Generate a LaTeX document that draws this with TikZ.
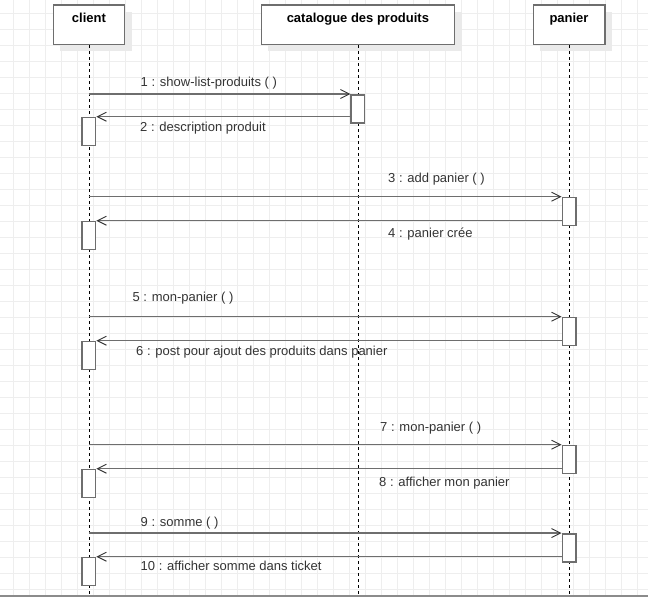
\documentclass[tikz,border=0pt]{standalone}
\usepackage{fontspec}
\setmainfont{Liberation Sans}
\usetikzlibrary{arrows.meta,positioning,shadows}

\definecolor{linegray}{HTML}{6E6E6E}
\definecolor{textgray}{HTML}{333333}
\definecolor{gridgray}{HTML}{EEEEEE}
\definecolor{shadowgray}{HTML}{EAEAEA}

\tikzset{
  objbox/.style={draw=linegray, line width=1.5pt, fill=white, inner sep=0pt,
    text height=17.7pt, text depth=21.7pt, anchor=north,
    font=\fontsize{13}{15}\selectfont\bfseries,
    drop shadow={shadow xshift=7pt, shadow yshift=-7pt, fill=shadowgray, opacity=1}},
  actbox/.style={draw=linegray, line width=1.5pt, fill=white, inner sep=0pt,
    minimum width=13.5pt, minimum height=28pt, anchor=north},
  lifeline/.style={line width=0.8pt, dash pattern=on 3pt off 3pt},
  msg/.style={draw=linegray, line width=1.5pt,
    -{Straight Barb[length=9pt, width=9pt, line width=0.9pt, color=black!80]}},
  msgtext/.style={anchor=base west, inner sep=0pt, text=textgray,
    font=\fontsize{13}{15}\selectfont}
}

\begin{document}
\begin{tikzpicture}[x=1pt, y=-1pt]
\useasboundingbox (0,0) rectangle (648,597);
\draw[gridgray, step=16pt, shift={(13,13)}] (-13,-13) grid (635,584);
\draw[linegray!80, line width=1.5pt] (0,596) -- (648,596);
\coordinate (bottom) at (0,597);

% objects
\node[objbox, minimum width=71.3pt]  (client)    at (88.9,4.3)  {client};
\node[objbox, minimum width=193.3pt] (catalogue) at (357.9,4.3) {catalogue des produits};
\node[objbox, minimum width=71.5pt]  (panier)    at (569,4.3)   {panier};

\draw[lifeline] (client.south) -- (client.south |- bottom);
\draw[lifeline] (catalogue.south) -- (catalogue.south |- bottom);
\draw[lifeline] (panier.south) -- (panier.south |- bottom);

% activations
\node[actbox] (a1) at (catalogue |- 0,94)  {};
\node[actbox] (r1) at (client |- 0,116.7)  {};
\node[actbox] (a2) at (panier |- 0,196.7)  {};
\node[actbox] (r2) at (client |- 0,220.7)  {};
\node[actbox] (a3) at (panier |- 0,316.7)  {};
\node[actbox] (r3) at (client |- 0,340.7)  {};
\node[actbox] (a4) at (panier |- 0,444.7)  {};
\node[actbox] (r4) at (client |- 0,468.7)  {};
\node[actbox] (a5) at (panier |- 0,533)    {};
\node[actbox] (r5) at (client |- 0,556.7)  {};

% messages
\draw[msg] (client |- a1.north) -- (a1.north west);
\draw[msg] (a1.west |- r1.north) -- (r1.north east);
\draw[msg] (client |- a2.north) -- (a2.north west);
\draw[msg] (a2.west |- r2.north) -- (r2.north east);
\draw[msg] (client |- a3.north) -- (a3.north west);
\draw[msg] (a3.west |- r3.north) -- (r3.north east);
\draw[msg] (client |- a4.north) -- (a4.north west);
\draw[msg] (a4.west |- r4.north) -- (r4.north east);
\draw[msg] (client |- a5.north) -- (a5.north west);
\draw[msg] (a5.west |- r5.north) -- (r5.north east);

\node[msgtext] (m1)  at (140.5,86.7) {1 : show-list-produits ( )};
\node[msgtext] (m2)  at (140,131)    {2 : description produit};
\node[msgtext] (m3)  at (388,182.3)  {3 : add panier ( )};
\node[msgtext] (m4)  at (388,237.3)  {4 : panier crée};
\node[msgtext] (m5)  at (132.3,301.7) {5 : mon-panier ( )};
\node[msgtext] (m6)  at (136,355)    {6 : post pour ajout des produits dans panier};
\node[msgtext] (m7)  at (380,431)    {7 : mon-panier ( )};
\node[msgtext] (m8)  at (379,486)    {8 : afficher mon panier};
\node[msgtext] (m9)  at (140.5,526)  {9 : somme ( )};
\node[msgtext] (m10) at (140.5,570.3) {10 : afficher somme dans ticket};

\end{tikzpicture}
\end{document}
